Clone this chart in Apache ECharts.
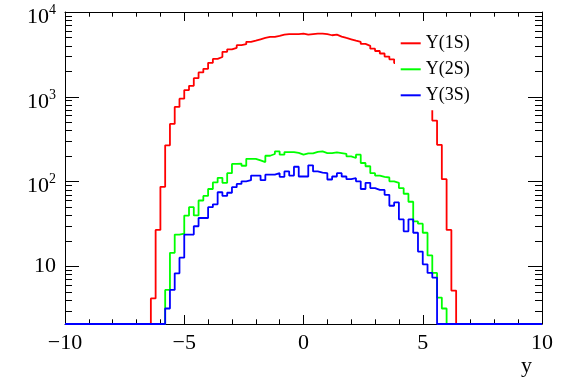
<!DOCTYPE html>
<html><head><meta charset="utf-8">
<script src="https://cdn.jsdelivr.net/npm/echarts@6/dist/echarts.min.js"></script>
<style>html,body{margin:0;padding:0;background:#fff}#c{width:564px;height:379px}</style>
</head><body><div id="c"></div>
<script>
// ---- axis structure ----
const xMin = -10, xMax = 10, binWidth = 0.2;
const yMin = 2.1, yMax = 10000;
const xTickInterval = 5;
const majorTicksY = [10, 100, 1000, 10000];
const minorTicksY = [2,3,4,5,6,7,8,9, 20,30,40,50,60,70,80,90, 200,300,400,500,600,700,800,900, 2000,3000,4000,5000,6000,7000,8000,9000];

// ---- series (bin contents, first non-empty bin low edge + counts) ----
const names = ['Y(1S)', 'Y(2S)', 'Y(3S)'];
const colors = ['#ff0000', '#00ff00', '#0000ff'];

const y1sStart = -6.4;
const y1sCounts = [4.2, 27, 87, 268, 480, 760, 950, 1200, 1350, 1660, 1940, 2140, 2520, 2800, 2950, 3390,
  3630, 3780, 4060, 4170, 4450, 4600, 4770, 4940, 5080, 5080, 5220, 5410, 5500, 5500, 5500, 5560,
  5410, 5500, 5560, 5560, 5500, 5320, 5410, 5130, 4940, 4770, 4590, 4440, 4200, 3990, 3700, 3470,
  3240, 2980, 2770, 2500, 2250, 2000, 1750, 1500, 1280, 1050, 820, 525, 272, 107, 27, 5.2];

const y2sStart = -5.8;
const y2sCounts = [5.3, 14.5, 23.8, 24.4, 39.8, 50, 40, 60, 68, 82, 98, 111, 97, 126, 162, 163,
  154, 186, 186, 178, 170, 202, 212, 227, 208, 223, 223, 218, 208, 215, 215, 224,
  227, 217, 217, 221, 217, 213, 199, 190, 208, 166, 152, 126, 118, 114, 112, 101,
  97, 84, 72, 58, 34, 32, 25, 13.5, 8.4, 4.3, 3.2];

const y3sStart = -5.8;
const y3sCounts = [3.2, 5.3, 8.3, 12.7, 23.8, 23.8, 29.8, 37.3, 37.3, 50, 54, 75, 68, 74, 86, 94,
  101, 104, 118, 118, 104, 121, 121, 126, 114, 132, 118, 150, 115, 115, 156, 132,
  128, 126, 106, 115, 126, 115, 107, 110, 101, 82, 97, 84, 80, 80, 70, 52,
  57, 36, 26, 36, 25, 15, 10.6, 8.4, 7.4];

const FONT = "'Liberation Serif','Times New Roman',serif";

function histPoints(start, counts) {
  const nBins = Math.round((xMax - xMin) / binWidth);
  const first = Math.round((start - xMin) / binWidth);
  const pts = [];
  let last = yMin;
  for (let i = 0; i < nBins; i++) {
    const x = +(xMin + i * binWidth).toFixed(4);
    const j = i - first;
    const v = (j >= 0 && j < counts.length) ? counts[j] : 0;
    last = Math.max(v, yMin); // empty bins sit on the frame, as in ROOT
    pts.push([x, last]);
  }
  pts.push([xMax, last]);
  return pts;
}

const starts = [y1sStart, y2sStart, y3sStart];
const countsList = [y1sCounts, y2sCounts, y3sCounts];

const black = '#000';
function xAx(pos, labels) {
  return {
    type: 'value', min: xMin, max: xMax, interval: xTickInterval, position: pos,
    axisLine: { show: true, onZero: false, lineStyle: { color: black, width: 1 } },
    axisTick: { show: true, inside: true, length: 9, lineStyle: { color: black, width: 1 } },
    minorTick: { show: true, splitNumber: 5, length: 4.7, lineStyle: { color: black, width: 1 } },
    splitLine: { show: false }, minorSplitLine: { show: false },
    axisLabel: {
      show: labels, color: black, fontFamily: FONT, fontSize: 22, margin: 8,
      formatter: v => (v < 0 ? '\u2212' + Math.abs(v) : String(v))
    },
    name: labels ? 'y' : '', nameLocation: 'end', nameGap: -10,
    nameTextStyle: { color: black, fontFamily: FONT, fontSize: 22, align: 'right', verticalAlign: 'top', padding: [31, 0, 0, 0] }
  };
}
function yAx(pos, ticks, len, labels, line) {
  return {
    type: 'log', logBase: 10, min: yMin, max: yMax, position: pos,
    axisLine: { show: line, onZero: false, lineStyle: { color: black, width: 1 } },
    axisTick: { show: true, inside: true, length: len, customValues: ticks, lineStyle: { color: black, width: 1 } },
    splitLine: { show: false },
    axisLabel: {
      show: labels, customValues: ticks, color: black, margin: 9,
      formatter: v => {
        const e = Math.round(Math.log10(v));
        return e === 1 ? '{p|10}' : '{b|10}{s|' + e + '}';
      },
      rich: {
        p: { fontFamily: FONT, fontSize: 22, lineHeight: 22, color: black },
        b: { fontFamily: FONT, fontSize: 22, lineHeight: 22, padding: [10, 0, 0, 0], color: black },
        s: { fontFamily: FONT, fontSize: 14, lineHeight: 14, padding: [0, 0, 4, 0], color: black }
      }
    }
  };
}

const chart = echarts.init(document.getElementById('c'), null, { renderer: 'canvas' });
chart.setOption({
  animation: false,
  backgroundColor: '#fff',
  grid: { left: 65, right: 22, top: 12, bottom: 55, containLabel: false, outerBoundsMode: 'none' },
  xAxis: [xAx('bottom', true), xAx('top', false)],
  yAxis: [
    yAx('left', majorTicksY, 14, true, true),
    yAx('right', majorTicksY, 14, false, true),
    yAx('left', minorTicksY, 7, false, false),
    yAx('right', minorTicksY, 7, false, false)
  ],
  legend: {
    orient: 'vertical', left: 395, top: 28, padding: [2.3, 30, 2, 5.7],
    backgroundColor: '#fff', itemWidth: 20, itemHeight: 2, itemGap: 0, icon: 'rect',
    textStyle: { fontFamily: FONT, fontSize: 18, color: black, lineHeight: 26 },
    data: names
  },
  series: names.map((n, k) => ({
    name: n, type: 'line', step: 'end', symbol: 'none', clip: false,
    xAxisIndex: 0, yAxisIndex: 0,
    lineStyle: { color: colors[k], width: 1.8 }, itemStyle: { color: colors[k] },
    data: histPoints(starts[k], countsList[k])
  }))
});
</script></body></html>
